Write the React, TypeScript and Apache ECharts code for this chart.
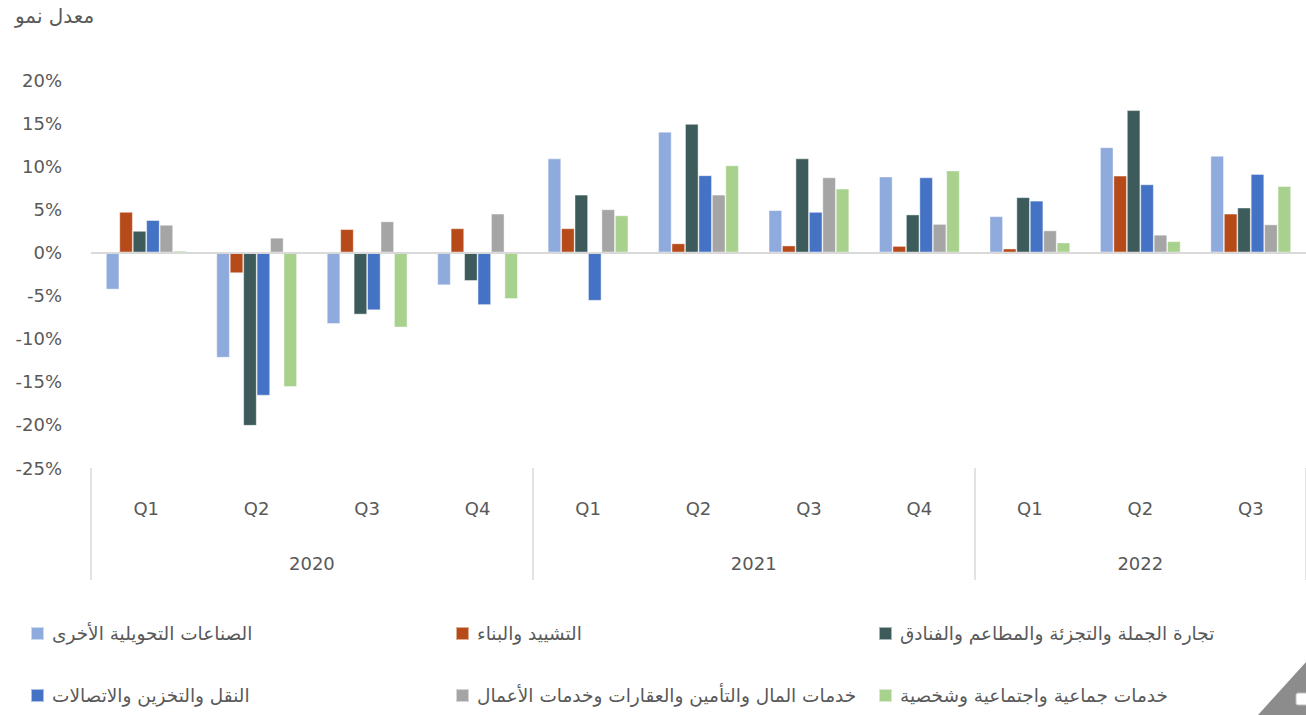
import React, { useEffect, useRef } from "react";
import * as echarts from "echarts";

const quarters = ["Q1", "Q2", "Q3", "Q4", "Q1", "Q2", "Q3", "Q4", "Q1", "Q2", "Q3"];
const years = ["2020", "2021", "2022"];
const quartersPerYear = [4, 4, 3];

const seriesNames = [
  "الصناعات التحويلية الأخرى",
  "التشييد والبناء",
  "تجارة الجملة والتجزئة والمطاعم والفنادق",
  "النقل والتخزين والاتصالات",
  "خدمات المال والتأمين والعقارات وخدمات الأعمال",
  "خدمات جماعية واجتماعية وشخصية",
];

const manufacturing = [-4.3, -12.2, -8.3, -3.8, 10.9, 14.0, 4.9, 8.8, 4.2, 12.2, 11.2];
const construction = [4.7, -2.4, 2.7, 2.8, 2.8, 1.05, 0.8, 0.75, 0.45, 8.9, 4.5];
const trade = [2.5, -20.1, -7.2, -3.3, 6.7, 14.9, 10.9, 4.4, 6.4, 16.5, 5.2];
const transport = [3.75, -16.6, -6.7, -6.1, -5.6, 8.95, 4.7, 8.7, 6.0, 7.9, 9.1];
const finance = [3.2, 1.7, 3.6, 4.5, 5.0, 6.7, 8.7, 3.3, 2.55, 2.05, 3.25];
const social = [0.2, -15.6, -8.7, -5.4, 4.3, 10.1, 7.4, 9.5, 1.15, 1.3, 7.7];

const seriesValues = [manufacturing, construction, trade, transport, finance, social];
const colors = ["#8FAADC", "#B64A18", "#3E5B5B", "#4472C4", "#A5A5A5", "#A9D18E"];

const yTicks = { min: -25, max: 20, interval: 5 };

const FONT = '"DejaVu Sans", sans-serif';
const TEXT = "#595959";

export default function App() {
  const ref = useRef<HTMLDivElement>(null);
  useEffect(() => {
    if (!ref.current) return;
    const chart = echarts.init(ref.current, null, { renderer: "svg" });

    const boundaries: number[] = [0];
    const centers: number[] = [];
    quartersPerYear.forEach((n) => {
      const start = boundaries[boundaries.length - 1];
      centers.push(start + n / 2);
      boundaries.push(start + n);
    });

    const legendCols = [25, 450, 873];
    const legendRows = [619, 681];
    const legends = seriesNames.map((name, i) => ({
      data: [name],
      left: legendCols[i % 3],
      top: legendRows[Math.floor(i / 3)],
      icon: "rect",
      itemWidth: 13,
      itemHeight: 13,
      selectedMode: false,
      textStyle: { fontFamily: FONT, fontSize: 18.5, color: TEXT, padding: [0, 0, 0, 3] },
    }));

    chart.setOption({
      animation: false,
      backgroundColor: "#ffffff",
      title: {
        text: "معدل نمو",
        left: 10,
        top: 1,
        textStyle: { fontFamily: FONT, fontSize: 20, color: TEXT, fontWeight: "normal" },
      },
      legend: legends,
      grid: { left: 91, top: 80, width: 1220, height: 388, containLabel: false },
      xAxis: [
        {
          type: "category",
          data: quarters,
          position: "bottom",
          axisLine: { show: false },
          axisTick: { show: false },
          axisLabel: { interval: 0, margin: 31, fontFamily: FONT, fontSize: 18, color: TEXT },
        },
        {
          type: "value",
          min: 0,
          max: quarters.length,
          position: "bottom",
          axisLine: { show: false },
          splitLine: { show: false },
          axisTick: {
            show: true,
            customValues: boundaries,
            length: 112,
            lineStyle: { color: "#D9D9D9", width: 1.5 },
          },
          axisLabel: {
            customValues: centers,
            margin: 86,
            fontFamily: FONT,
            fontSize: 18,
            color: TEXT,
            formatter: (v: number) => {
              const idx = centers.findIndex((c) => Math.abs(c - v) < 1e-6);
              return idx >= 0 ? years[idx] : "";
            },
          },
        },
      ],
      yAxis: {
        type: "value",
        min: yTicks.min,
        max: yTicks.max,
        interval: yTicks.interval,
        axisLine: { show: false },
        axisTick: { show: false },
        splitLine: { show: false },
        axisLabel: {
          margin: 29,
          fontFamily: FONT,
          fontSize: 18,
          color: TEXT,
          formatter: (v: number) => `${v}%`,
        },
      },
      series: seriesNames.map((name, i) => ({
        name,
        type: "bar",
        xAxisIndex: 0,
        data: seriesValues[i],
        barGap: "0%",
        barCategoryGap: "27%",
        itemStyle: { color: colors[i], borderColor: "rgba(255,255,255,0.55)", borderWidth: 0.8 },
        markLine:
          i === 0
            ? {
                silent: true,
                symbol: "none",
                label: { show: false },
                lineStyle: { color: "#D9D9D9", width: 2, type: "solid" },
                data: [{ yAxis: 0 }],
              }
            : undefined,
      })),
      graphic: [
        {
          type: "polygon",
          shape: { points: [[1258, 715], [1306, 662], [1306, 715]] },
          style: { fill: "#8C8C8C" },
          silent: true,
        },
        {
          type: "rect",
          shape: { x: 1296, y: 693, width: 14, height: 12, r: 2 },
          style: { fill: "#ffffff", stroke: "#BFBFBF", lineWidth: 1 },
          silent: true,
        },
      ],
    });

    return () => chart.dispose();
  }, []);

  return (
    <div
      ref={ref}
      style={{ position: "absolute", left: 0, top: 0, width: 1306, height: 715 }}
    />
  );
}
